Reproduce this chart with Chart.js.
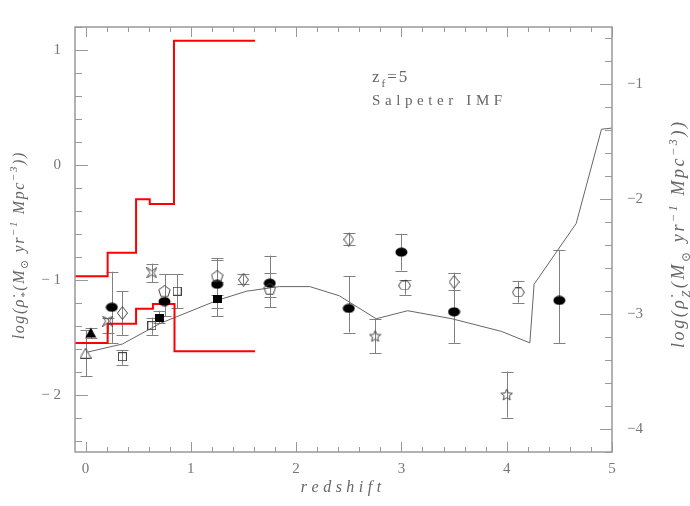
<!DOCTYPE html>
<html>
<head>
<meta charset="utf-8">
<script src="https://cdn.jsdelivr.net/npm/chart.js@4/dist/chart.umd.min.js"></script>
<style>
  html, body { margin: 0; padding: 0; background: #fff; }
  canvas { display: block; }
</style>
</head>
<body>
<canvas id="c" width="690" height="506"></canvas>
<script>
// ---- data ----
var xTicks = [0, 1, 2, 3, 4, 5];
var yTicks = [-2, -1, 0, 1];
var yTickLabels = ['\u2212 2', '\u2212 1', '0', '1'];
var y2Ticks = [-4, -3, -2, -1];
var y2TickLabels = ['\u22124', '\u22123', '\u22122', '\u22121'];

// red step bounds (bin edges + value in each bin)
var upEdges = [-0.1, 0.21, 0.48, 0.61, 0.84, 1.61];
var upVals = [-0.97, -0.765, -0.30, -0.34, 1.08];
var lowEdges = [-0.1, 0.21, 0.48, 0.64, 0.845, 1.61];
var lowVals = [-1.55, -1.383, -1.252, -1.212, -1.622];

// model curve (right axis)
var curveX = [0.02, 0.35, 0.71, 1.25, 1.53, 1.84, 2.13, 2.41, 2.76, 3.06, 3.48, 3.95, 4.22, 4.26, 4.66, 4.90, 5.0];
var curveY = [-3.33, -3.26, -3.08, -2.88, -2.80, -2.76, -2.76, -2.84, -3.04, -2.97, -3.04, -3.15, -3.25, -2.74, -2.21, -1.39, -1.38];

// points: x, y, lower and upper end of error bar
var circX = [0.25, 0.75, 1.25, 1.75, 2.5, 3.0, 3.5, 4.5];
var circY = [-1.24, -1.19, -1.04, -1.03, -1.25, -0.76, -1.28, -1.18];
var circLo = [-1.55, -1.32, -1.25, -1.24, -1.46, -0.92, -1.55, -1.55];
var circHi = [-0.93, -0.95, -0.83, -0.79, -0.97, -0.60, -0.94, -0.74];

var ftriX = [0.05], ftriY = [-1.46], ftriLo = [-1.51], ftriHi = [-1.42];
var otriX = [0.0], otriY = [-1.64], otriLo = [-1.84], otriHi = [-1.44];

var diaX = [0.35, 1.5, 2.5, 3.5];
var diaY = [-1.29, -1.0, -0.65, -1.02];
var diaLo = [-1.48, -1.04, -0.70, -1.09];
var diaHi = [-1.10, -0.95, -0.59, -0.94];

var osqX = [0.35, 0.63, 0.87];
var osqY = [-1.67, -1.40, -1.10];
var osqLo = [-1.74, -1.48, -1.25];
var osqHi = [-1.61, -1.33, -0.95];

var fsqX = [0.70, 1.25];
var fsqY = [-1.33, -1.17];
var fsqLo = [-1.38, -1.32];
var fsqHi = [-1.27, -1.02];

var pentX = [0.75, 1.25, 1.75];
var pentY = [-1.10, -0.97, -1.08];
var pentLo = [-1.20, -1.13, -1.15];
var pentHi = [-0.95, -0.81, -0.94];

var crossX = [0.21, 0.63];
var crossY = [-1.36, -0.94];
var crossLo = [-1.46, -1.02];
var crossHi = [-1.33, -0.86];

var hexX = [3.03, 4.11];
var hexY = [-1.05, -1.11];
var hexLo = [-1.13, -1.20];
var hexHi = [-1.00, -1.01];

var starX = [2.75, 4.0];
var starY = [-1.49, -2.0];
var starLo = [-1.64, -2.2];
var starHi = [-1.34, -1.8];

// ---- helpers ----
var INK = '#444';
function mk(w, h, fn) {
    var c = document.createElement('canvas');
    c.width = w; c.height = h;
    var g = c.getContext('2d');
    g.lineWidth = 1;
    g.strokeStyle = INK;
    g.fillStyle = '#000';
    fn(g, w, h);
    return c;
}
function poly(g, pts) {
    g.beginPath();
    g.moveTo(pts[0][0], pts[0][1]);
    for (var i = 1; i < pts.length; i++) g.lineTo(pts[i][0], pts[i][1]);
    g.closePath();
}

var symCirc = mk(13, 10, function (g) { g.beginPath(); g.ellipse(6.5, 5, 6, 4.6, 0, 0, 2 * Math.PI); g.fill(); });
var symFtri = mk(12, 11, function (g) { poly(g, [[6, 0.5], [11.5, 10.5], [0.5, 10.5]]); g.fill(); });
var symOtri = mk(12, 11, function (g) { poly(g, [[6, 0.5], [11.5, 10.5], [0.5, 10.5]]); g.stroke(); });
var symDia = mk(11, 14, function (g) { poly(g, [[5.5, 0.5], [10.5, 7], [5.5, 13.5], [0.5, 7]]); g.stroke(); });
var symOsq = mk(9, 9, function (g) { g.strokeRect(0.5, 0.5, 8, 8); });
var symFsq = mk(9, 8, function (g) { g.fillRect(0, 0, 9, 8); });
var symPent = mk(13, 12, function (g) {
    var p = [];
    for (var i = 0; i < 5; i++) { var a = -Math.PI / 2 + i * 2 * Math.PI / 5; p.push([6.5 + 6 * Math.cos(a), 6.4 + 6 * Math.sin(a)]); }
    poly(g, p); g.stroke();
});
var symCross = mk(11, 11, function (g) {
    poly(g, [[0.5, 0.5], [5.5, 3.5], [10.5, 0.5], [7.5, 5.5], [10.5, 10.5], [5.5, 7.5], [0.5, 10.5], [3.5, 5.5]]);
    g.stroke();
});
var symHex = mk(13, 10, function (g) {
    poly(g, [[0.5, 5], [3.5, 0.5], [9.5, 0.5], [12.5, 5], [9.5, 9.5], [3.5, 9.5]]); g.stroke();
});
var symStar = mk(13, 13, function (g) {
    var p = [];
    for (var i = 0; i < 10; i++) {
        var a = -Math.PI / 2 + i * Math.PI / 5, r = i % 2 ? 2.6 : 6;
        p.push([6.5 + r * Math.cos(a), 7 + r * Math.sin(a)]);
    }
    poly(g, p); g.stroke();
});

function pts(xs, ys) { return xs.map(function (x, i) { return {x: x, y: ys[i]}; }); }
function steps(edges, vals) {
    var d = vals.map(function (v, i) { return {x: edges[i], y: v}; });
    d.push({x: edges[edges.length - 1], y: vals[vals.length - 1]});
    return d;
}
function markSet(xs, ys, lo, hi, sym) {
    return {type: 'scatter', data: pts(xs, ys), errLo: lo, errHi: hi, pointStyle: sym,
        pointRadius: 6, borderWidth: 0, backgroundColor: '#000', yAxisID: 'y', order: 0};
}

var SERIF = '"Liberation Serif", "DejaVu Serif", serif';

// draws text glyph by glyph with extra spacing, sub/superscripts
function rich(ctx, parts, cx, cy, rot, size, sp, italic, align) {
    var toks = [], total = 0;
    parts.forEach(function (p) {
        var s = p.sub || p.sup ? Math.round(size * 0.66) : size;
        var dy = p.sub ? size * 0.3 : (p.sup ? -size * 0.42 : 0);
        var f = (italic ? 'italic ' : '') + s + 'px ' + SERIF;
        var g = [];
        Array.from(p.t).forEach(function (ch) {
            if (/[\u0300-\u036f]/.test(ch) && g.length) g[g.length - 1] += ch; else g.push(ch);
        });
        ctx.font = f;
        g.forEach(function (ch) {
            var w = ctx.measureText(ch).width;
            toks.push({ch: ch, f: f, dy: dy, w: w});
            total += w + sp;
        });
    });
    total -= sp;
    ctx.save();
    ctx.translate(cx, cy);
    ctx.rotate(rot);
    ctx.textBaseline = 'alphabetic';
    ctx.textAlign = 'left';
    var x = align === 'left' ? 0 : -total / 2;
    toks.forEach(function (t) {
        ctx.font = t.f;
        ctx.fillText(t.ch, x, size * 0.35 + t.dy);
        x += t.w + sp;
    });
    ctx.restore();
}

var deco = {
    id: 'deco',
    beforeDatasetsDraw: function (chart) {
        var ctx = chart.ctx, xs = chart.scales.x, ys = chart.scales.y;
        ctx.save();
        ctx.strokeStyle = '#808080';
        ctx.lineWidth = 1;
        chart.data.datasets.forEach(function (ds) {
            if (!ds.errLo) return;
            ds.data.forEach(function (p, i) {
                var px = Math.round(xs.getPixelForValue(p.x)) + 0.5;
                var a = ys.getPixelForValue(ds.errLo[i]), b = ys.getPixelForValue(ds.errHi[i]);
                ctx.beginPath();
                ctx.moveTo(px, a); ctx.lineTo(px, b);
                ctx.moveTo(px - 6, Math.round(a) + 0.5); ctx.lineTo(px + 6, Math.round(a) + 0.5);
                ctx.moveTo(px - 6, Math.round(b) + 0.5); ctx.lineTo(px + 6, Math.round(b) + 0.5);
                ctx.stroke();
            });
        });
        ctx.restore();
    },
    afterDraw: function (chart) {
        var ctx = chart.ctx, a = chart.chartArea;
        var xs = chart.scales.x, ys = chart.scales.y, y2 = chart.scales.y2;
        ctx.save();
        ctx.strokeStyle = '#999';
        ctx.lineWidth = 1.5;
        ctx.strokeRect(a.left, a.top, a.right - a.left, a.bottom - a.top);
        ctx.lineWidth = 1;
        ctx.beginPath();
        var v, p, k;
        for (k = 0; k <= 25; k++) {
            v = k * 0.2; p = Math.round(xs.getPixelForValue(v)) + 0.5;
            var L = k % 5 === 0 ? 10 : 5;
            ctx.moveTo(p, a.bottom); ctx.lineTo(p, a.bottom - L);
            ctx.moveTo(p, a.top); ctx.lineTo(p, a.top + L);
        }
        for (k = -12; k <= 6; k++) {
            v = k * 0.2; p = Math.round(ys.getPixelForValue(v)) + 0.5;
            ctx.moveTo(a.left, p); ctx.lineTo(a.left + (k % 5 === 0 ? 13 : 7), p);
        }
        for (k = -21; k <= -3; k++) {
            v = k * 0.2; p = Math.round(y2.getPixelForValue(v)) + 0.5;
            ctx.moveTo(a.right, p); ctx.lineTo(a.right - (k % 5 === 0 ? 12 : 7), p);
        }
        ctx.stroke();

        ctx.fillStyle = '#666';
        rich(ctx, [{t: 'redshift'}], 341, 486, 0, 16, 4.5, true);
        rich(ctx, [{t: 'log('}, {t: '\u03c1\u0307'}, {t: '*', sub: true}, {t: '(M'}, {t: '\u2299', sub: true},
            {t: ' yr'}, {t: '\u22121', sup: true}, {t: ' Mpc'}, {t: '\u22123', sup: true}, {t: '))'}],
            18, 246, -Math.PI / 2, 16, 1.6, true);
        rich(ctx, [{t: 'log('}, {t: '\u03c1\u0307'}, {t: 'Z', sub: true}, {t: '(M'}, {t: '\u2299', sub: true},
            {t: ' yr'}, {t: '\u22121', sup: true}, {t: ' Mpc'}, {t: '\u22123', sup: true}, {t: '))'}],
            678, 235, -Math.PI / 2, 18, 2.6, true);
        rich(ctx, [{t: 'z'}, {t: 'f', sub: true}, {t: '=5'}], 372, 76, 0, 17, 2, false, 'left');
        rich(ctx, [{t: 'Salpeter IMF'}], 372, 100, 0, 15, 4.6, false, 'left');
        ctx.restore();
    }
};

var tickFont = {family: SERIF, size: 15};

new Chart(document.getElementById('c'), {
    type: 'scatter',
    data: {
        datasets: [
            {type: 'line', data: steps(upEdges, upVals), stepped: true, borderColor: '#ff0000', borderWidth: 2,
                pointRadius: 0, fill: false, yAxisID: 'y', order: 2},
            {type: 'line', data: steps(lowEdges, lowVals), stepped: true, borderColor: '#ff0000', borderWidth: 2,
                pointRadius: 0, fill: false, yAxisID: 'y', order: 2},
            {type: 'line', data: pts(curveX, curveY), borderColor: '#666', borderWidth: 1, tension: 0,
                pointRadius: 0, fill: false, yAxisID: 'y2', order: 3},
            markSet(otriX, otriY, otriLo, otriHi, symOtri),
            markSet(ftriX, ftriY, ftriLo, ftriHi, symFtri),
            markSet(diaX, diaY, diaLo, diaHi, symDia),
            markSet(osqX, osqY, osqLo, osqHi, symOsq),
            markSet(fsqX, fsqY, fsqLo, fsqHi, symFsq),
            markSet(pentX, pentY, pentLo, pentHi, symPent),
            markSet(crossX, crossY, crossLo, crossHi, symCross),
            markSet(hexX, hexY, hexLo, hexHi, symHex),
            markSet(starX, starY, starLo, starHi, symStar),
            markSet(circX, circY, circLo, circHi, symCirc)
        ]
    },
    options: {
        responsive: false,
        animation: false,
        devicePixelRatio: 1,
        layout: {padding: {top: 27, left: 0, right: 0, bottom: 0}},
        plugins: {legend: {display: false}, tooltip: {enabled: false}},
        scales: {
            x: {
                type: 'linear', position: 'bottom', min: -0.1, max: 5,
                grid: {display: false, drawTicks: false}, border: {display: false},
                afterBuildTicks: function (s) { s.ticks = xTicks.map(function (v) { return {value: v}; }); },
                afterFit: function (s) { s.height = 54; },
                ticks: {color: '#777', font: tickFont, padding: 8, maxRotation: 0,
                    callback: function (v) { return String(v); }}
            },
            y: {
                type: 'linear', position: 'left', min: -2.5, max: 1.2,
                grid: {display: false, drawTicks: false}, border: {display: false},
                afterBuildTicks: function (s) { s.ticks = yTicks.map(function (v) { return {value: v}; }); },
                afterFit: function (s) { s.width = 75; },
                ticks: {color: '#777', font: tickFont, padding: 14,
                    callback: function (v) { return yTickLabels[yTicks.indexOf(v)]; }}
            },
            y2: {
                type: 'linear', position: 'right', min: -4.2, max: -0.5,
                grid: {display: false, drawTicks: false}, border: {display: false},
                afterBuildTicks: function (s) { s.ticks = y2Ticks.map(function (v) { return {value: v}; }); },
                afterFit: function (s) { s.width = 78; },
                ticks: {color: '#777', font: tickFont, padding: 15,
                    callback: function (v) { return y2TickLabels[y2Ticks.indexOf(v)]; }}
            }
        }
    },
    plugins: [deco]
});
</script>
</body>
</html>
